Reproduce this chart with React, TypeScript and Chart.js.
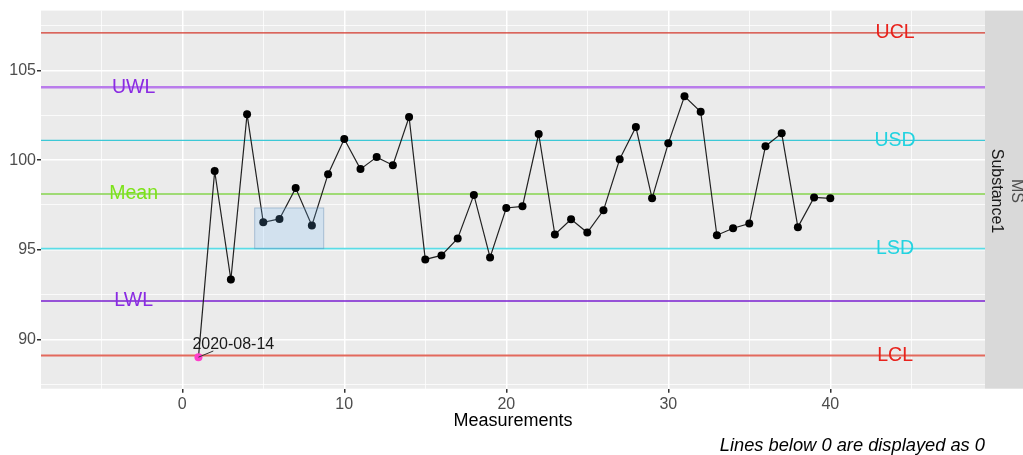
import { useEffect, useRef } from "react";
import { Chart, registerables } from "chart.js";

Chart.register(...registerables);

// ---------------- data ----------------
const measurements = [
  1, 2, 3, 4, 5, 6, 7, 8, 9, 10, 11, 12, 13, 14, 15, 16, 17, 18, 19, 20,
  21, 22, 23, 24, 25, 26, 27, 28, 29, 30, 31, 32, 33, 34, 35, 36, 37, 38, 39, 40,
];
const values = [
  89.0, 99.39, 93.33, 102.57, 96.53, 96.72, 98.44, 96.35, 99.22, 101.18,
  99.5, 100.17, 99.72, 102.41, 94.46, 94.68, 95.63, 98.06, 94.57, 97.33,
  97.42, 101.46, 95.85, 96.7, 95.96, 97.2, 100.05, 101.85, 97.87, 100.94,
  103.57, 102.7, 95.81, 96.2, 96.46, 100.78, 101.5, 96.26, 97.92, 97.87,
];
const limitNames = ["UCL", "UWL", "USD", "Mean", "LSD", "LWL", "LCL"];
const limitValues = [107.11, 104.07, 101.11, 98.11, 95.06, 92.13, 89.09];
const limitLabelX = [44, -3, 44, -3, 44, -3, 44];
const highlightX = [4.47, 8.73];
const highlightY = [95.06, 97.33];
const annotationText = "2020-08-14";
const annotationPos = [3.15, 89.68];
const xTicks = [-5, 0, 5, 10, 15, 20, 25, 30, 35, 40, 45];
const yTicks = [87.5, 90, 92.5, 95, 97.5, 100, 102.5, 105, 107.5];
const xRange = [-8.72, 49.55];
const yRange = [87.24, 108.35];
const xTitle = "Measurements";
const caption = "Lines below 0 are displayed as 0";
const stripLabels = ["Substance1", "MS"];

// ---------------- styles ----------------
const FONT = "'Liberation Sans', Arial, sans-serif";
const lineColors = ["#D4382C", "#B97CEB", "#3CC8D6", "#86D44E", "#5ADCE6", "#7A1FD0", "#E3695C"];
const lineWidths = [1.2, 2.5, 1.2, 1.3, 1.6, 1.5, 2];
const labelColors = ["#E8221C", "#8A2BE2", "#22D3E0", "#7CE319", "#22D3E0", "#8A2BE2", "#E8221C"];

const isMajorX = (v: number) => Math.abs(v % 10) < 1e-9;
const isMajorY = (v: number) => Math.abs(v % 5) < 1e-9;

const panelPlugin = {
  id: "panelDecor",
  beforeDraw(chart: any) {
    const { ctx, chartArea: a } = chart;
    ctx.save();
    ctx.fillStyle = "#EBEBEB";
    ctx.fillRect(a.left, a.top, a.right - a.left, a.bottom - a.top);
    ctx.fillStyle = "#D9D9D9";
    ctx.fillRect(a.right, a.top, chart.width - a.right, a.bottom - a.top);
    ctx.restore();
  },
  afterDatasetsDraw(chart: any) {
    const { ctx } = chart;
    const xs = chart.scales.x;
    const ys = chart.scales.y;
    ctx.save();
    // highlight rectangle
    const x0 = xs.getPixelForValue(highlightX[0]);
    const x1 = xs.getPixelForValue(highlightX[1]);
    const y0 = ys.getPixelForValue(highlightY[1]);
    const y1 = ys.getPixelForValue(highlightY[0]);
    ctx.fillStyle = "rgba(110,185,250,0.2)";
    ctx.fillRect(x0, y0, x1 - x0, y1 - y0);
    ctx.strokeStyle = "rgba(100,140,180,0.45)";
    ctx.lineWidth = 1;
    ctx.strokeRect(x0, y0, x1 - x0, y1 - y0);

    // limit labels
    ctx.font = `19.5px ${FONT}`;
    ctx.textAlign = "center";
    ctx.textBaseline = "middle";
    limitNames.forEach((n, i) => {
      ctx.fillStyle = labelColors[i];
      ctx.fillText(n, xs.getPixelForValue(limitLabelX[i]), ys.getPixelForValue(limitValues[i]));
    });

    // annotation with segment
    const px = xs.getPixelForValue(measurements[0]);
    const py = ys.getPixelForValue(values[0]);
    const ax = xs.getPixelForValue(annotationPos[0]);
    const ay = ys.getPixelForValue(annotationPos[1]);
    ctx.strokeStyle = "#333333";
    ctx.lineWidth = 1;
    ctx.beginPath();
    ctx.moveTo(px, py);
    ctx.lineTo(ax - 20, ay + 6);
    ctx.stroke();
    ctx.font = `16px ${FONT}`;
    ctx.fillStyle = "#1A1A1A";
    ctx.fillText(annotationText, ax, ay);
    ctx.restore();
  },
  afterDraw(chart: any) {
    const { ctx, chartArea: a } = chart;
    ctx.save();
    ctx.font = `16px ${FONT}`;
    ctx.textAlign = "center";
    ctx.textBaseline = "middle";
    const cy = 191;
    [[stripLabels[0], 11.7, "#1A1A1A"], [stripLabels[1], 31.7, "#4D4D4D"]].forEach(([t, dx, c]: any) => {
      ctx.save();
      ctx.translate(a.right + dx, cy);
      ctx.rotate(Math.PI / 2);
      ctx.fillStyle = c;
      ctx.fillText(t, 0, 0);
      ctx.restore();
    });
    ctx.restore();
  },
};

export default function App() {
  const ref = useRef<HTMLCanvasElement | null>(null);
  useEffect(() => {
    document.body.style.margin = "0";
    const canvas = ref.current;
    if (!canvas) return;
    Chart.defaults.font.family = FONT;

    const series = measurements.map((m, i) => ({ x: m, y: values[i] }));
    const limitSets = limitValues.map((v, i) => ({
      label: limitNames[i],
      data: [
        { x: xRange[0], y: v },
        { x: xRange[1], y: v },
      ],
      borderColor: lineColors[i],
      borderWidth: lineWidths[i],
      pointRadius: 0,
      showLine: true,
      fill: false,
    }));

    const chart = new Chart(canvas, {
      type: "scatter",
      data: {
        datasets: [
          {
            label: "Value",
            data: series,
            showLine: true,
            borderColor: "#222222",
            borderWidth: 1.2,
            pointRadius: 4,
            pointBorderWidth: 0,
            pointBackgroundColor: measurements.map((_, i) => (i === 0 ? "#FF3FCB" : "#000000")),
            pointBorderColor: "rgba(0,0,0,0)",
          },
          ...limitSets,
        ] as any,
      },
      options: {
        animation: false,
        responsive: false,
        layout: { padding: { left: 0, right: 38, top: 9, bottom: 0 } },
        plugins: {
          legend: { display: false },
          tooltip: { enabled: false },
          title: {
            display: true,
            position: "bottom",
            align: "end",
            text: caption,
            color: "#000000",
            font: { size: 18.3, style: "italic", weight: "normal", family: FONT, lineHeight: 1 },
            padding: 0,
          },
        },
        scales: {
          x: {
            type: "linear",
            min: xRange[0],
            max: xRange[1],
            afterBuildTicks: (s: any) => {
              s.ticks = xTicks.map((v) => ({ value: v }));
            },
            afterFit: (s: any) => {
              s.height = 48;
            },
            border: { display: false },
            grid: {
              color: "#FFFFFF",
              lineWidth: (c: any) => (c.tick && isMajorX(c.tick.value) ? 1.5 : 0.75),
              tickColor: (c: any) => (c.tick && isMajorX(c.tick.value) ? "#333333" : "rgba(0,0,0,0)"),
              tickLength: 4,
              drawTicks: true,
            },
            ticks: {
              autoSkip: false,
              maxRotation: 0,
              padding: 2,
              color: "#4D4D4D",
              font: { size: 16, family: FONT },
              callback: (v: any) => (isMajorX(Number(v)) ? String(v) : ""),
            },
            title: {
              display: true,
              text: xTitle,
              color: "#000000",
              font: { size: 18, family: FONT },
              padding: { top: 0, bottom: 4.5 },
            },
          },
          y: {
            type: "linear",
            min: yRange[0],
            max: yRange[1],
            afterBuildTicks: (s: any) => {
              s.ticks = yTicks.map((v) => ({ value: v }));
            },
            afterFit: (s: any) => {
              s.width = 41;
            },
            border: { display: false },
            grid: {
              color: "#FFFFFF",
              lineWidth: (c: any) => (c.tick && isMajorY(c.tick.value) ? 1.5 : 0.75),
              tickColor: (c: any) => (c.tick && isMajorY(c.tick.value) ? "#333333" : "rgba(0,0,0,0)"),
              tickLength: 4,
              drawTicks: true,
            },
            ticks: {
              autoSkip: false,
              padding: 1,
              color: "#4D4D4D",
              font: { size: 16, family: FONT },
              callback: (v: any) => (isMajorY(Number(v)) ? String(v) : ""),
            },
          },
        },
      } as any,
      plugins: [panelPlugin],
    });
    return () => chart.destroy();
  }, []);

  return (
    <div style={{ position: "absolute", left: 0, top: 0, width: 1023, height: 455 }}>
      <canvas ref={ref} width={1023} height={455} />
    </div>
  );
}
